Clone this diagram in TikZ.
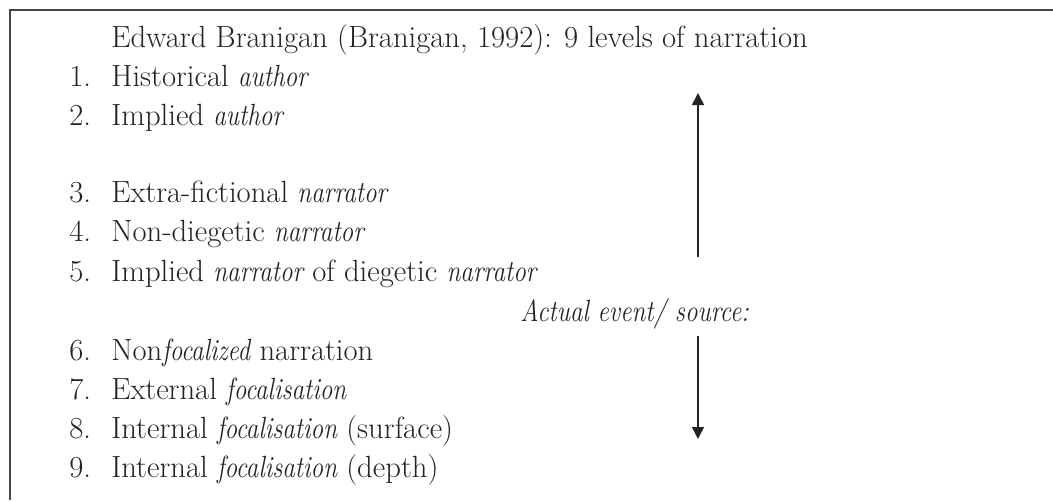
\documentclass[tikz,border=0pt]{standalone}
\usepackage{tikz}
\usepackage{graphicx}
\usetikzlibrary{arrows.meta, positioning}
\definecolor{InkGray}{RGB}{35, 35, 35}
% condensed italic, as in the printed original
\newcommand{\narrowit}[1]{\scalebox{0.82}[1]{\itshape #1}}

\begin{document}
\begin{tikzpicture}[
    x=0.75pt, y=-0.75pt,
    every node/.style={font=\fontsize{23}{27}\selectfont, inner sep=0pt, text=InkGray},
    num/.style={anchor=base west},
    lvl/.style={anchor=base west},
    frame/.style={line width=1.5pt, color=InkGray!85},
    arrow/.style={-{Triangle[width=9pt, length=9pt]}, line width=1.1pt, color=InkGray}]

\useasboundingbox (0,0) rectangle (1053,500);
\draw[frame] (1053,10) -- (10,10) -- (10,500);

\node[lvl] (title) at (111,47) {Edward Branigan (Branigan, 1992): 9 levels of narration};

\node[num] (n1) at (69,86) {1.};
\node[lvl] (l1) at (111,86) {Historical \narrowit{author}};
\node[num] (n2) at (69,125) {2.};
\node[lvl] (l2) at (111,125) {Implied \narrowit{author}};

\node[num] (n3) at (69,202) {3.};
\node[lvl] (l3) at (111,202) {Extra-fictional \narrowit{narrator}};
\node[num] (n4) at (69,241) {4.};
\node[lvl] (l4) at (111,241) {Non-diegetic \narrowit{narrator}};
\node[num] (n5) at (69,281) {5.};
\node[lvl] (l5) at (111,281) {Implied \narrowit{narrator} of diegetic \narrowit{narrator}};

\node[lvl] (source) at (520,321) {\narrowit{Actual event/ source:}};

\node[num] (n6) at (69,360) {6.};
\node[lvl] (l6) at (111,360) {Non\narrowit{focalized} narration};
\node[num] (n7) at (69,399) {7.};
\node[lvl] (l7) at (111,399) {External \narrowit{focalisation}};
\node[num] (n8) at (69,438) {8.};
\node[lvl] (l8) at (111,438) {Internal \narrowit{focalisation} (surface)};
\node[num] (n9) at (69,477) {9.};
\node[lvl] (l9) at (111,477) {Internal \narrowit{focalisation} (depth)};

% arrows above and below the source label
\coordinate (upfoot) at (698,257);
\coordinate (uptip) at (698,93);
\coordinate (downfoot) at (698,336);
\coordinate (downtip) at (698,439);
\draw[arrow] (upfoot) -- (uptip);
\draw[arrow] (downfoot) -- (downtip);
\end{tikzpicture}
\end{document}
